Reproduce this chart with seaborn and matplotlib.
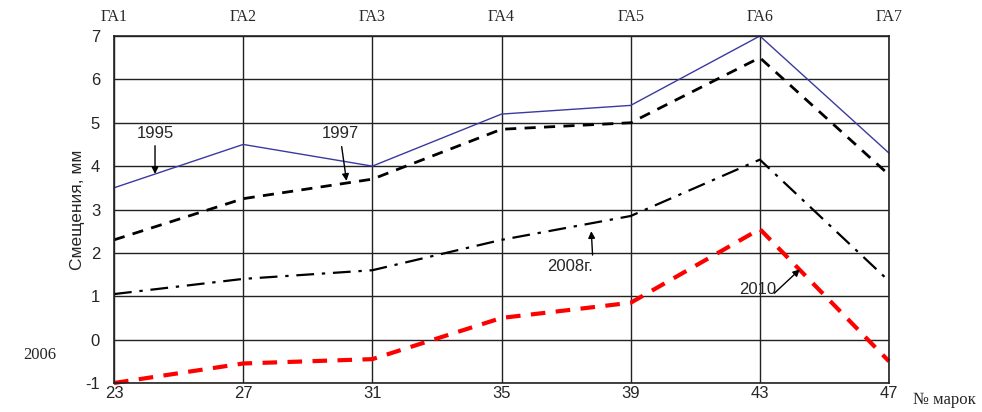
import matplotlib
matplotlib.use("Agg")
import matplotlib.pyplot as plt
import seaborn as sns
import pandas as pd

# номера марок и гидроагрегаты
marki = [23, 27, 31, 35, 39, 43, 47]
ga = ["ГА1", "ГА2", "ГА3", "ГА4", "ГА5", "ГА6", "ГА7"]

# смещения, мм
s1995 = [3.5, 4.5, 4.0, 5.2, 5.4, 7.0, 4.3]
s1997 = [2.3, 3.25, 3.7, 4.85, 5.0, 6.5, 3.8]
s2008 = [1.05, 1.4, 1.6, 2.3, 2.85, 4.15, 1.35]
s2010 = [-1.0, -0.55, -0.45, 0.5, 0.85, 2.55, -0.5]

y_ticks = [-1, 0, 1, 2, 3, 4, 5, 6, 7]

df = pd.DataFrame({"marka": marki, "1995": s1995, "1997": s1997,
                   "2008": s2008, "2010": s2010})

sns.set_style("white")
plt.rcParams["font.family"] = ["Liberation Sans", "DejaVu Sans"]

fig = plt.figure(figsize=(9.82, 4.12), dpi=100)
ax = fig.add_axes([0.1161, 0.0704, 0.7892, 0.8422])

sns.lineplot(data=df, x="marka", y="1995", ax=ax, color="#3a3aa0", lw=1.0, clip_on=False)
sns.lineplot(data=df, x="marka", y="1997", ax=ax, color="black", lw=2.0,
             clip_on=False).lines[-1].set_dashes([4, 3])
sns.lineplot(data=df, x="marka", y="2008", ax=ax, color="black", lw=1.6,
             clip_on=False).lines[-1].set_dashes([8, 3.5, 1.5, 3.5])
sns.lineplot(data=df, x="marka", y="2010", ax=ax, color="#ff0000", lw=3.0,
             clip_on=False).lines[-1].set_dashes([3.5, 2.5])

ax.set_xlim(23, 47)
ax.set_ylim(-1, 7)
ax.set_xticks(marki)
ax.set_yticks(y_ticks)
ax.set_xticklabels([str(m) for m in marki], fontsize=12)
ax.set_yticklabels([str(v) for v in y_ticks], fontsize=12)
ax.tick_params(axis="y", length=0, pad=10)
ax.tick_params(axis="x", length=0, pad=2)
ax.grid(True, color="#222222", lw=1.0)
for sp in ax.spines.values():
    sp.set_color("#222222")
    sp.set_linewidth(1.2)
ax.set_xlabel("")
ax.set_ylabel("Смещения, мм", fontsize=12.5, labelpad=0)

top = ax.secondary_xaxis("top")
top.set_xticks(marki)
top.set_xticklabels(ga, fontsize=11.5, family=["Liberation Serif"])
top.tick_params(length=0, pad=8)
for sp in top.spines.values():
    sp.set_visible(False)

# подписи лет
ax.text(24.27, 4.76, "1995", fontsize=12, ha="center", va="center")
ax.text(30.0, 4.76, "1997", fontsize=12, ha="center", va="center")
ax.text(37.12, 1.68, "2008г.", fontsize=12, ha="center", va="center")
ax.text(42.94, 1.15, "2010", fontsize=12, ha="center", va="center")

# стрелки
arrow = dict(arrowstyle="-|>", color="black", lw=1.0, mutation_scale=10,
             shrinkA=0, shrinkB=0)
ax.annotate("", xy=(24.27, 3.82), xytext=(24.27, 4.47), arrowprops=arrow)
ax.annotate("", xy=(30.2, 3.66), xytext=(30.05, 4.45), arrowprops=arrow)
ax.annotate("", xy=(37.78, 2.5), xytext=(37.82, 1.95), arrowprops=arrow)
ax.annotate("", xy=(44.24, 1.62), xytext=(43.45, 1.07), arrowprops=arrow)

fig.text(0.041, 0.138, "2006", fontsize=12, family=["Liberation Serif"],
         ha="center", va="center")
fig.text(0.962, 0.029, "№ марок", fontsize=12, family=["Liberation Serif"],
         ha="center", va="center")

fig.savefig("out.png", dpi=100)
